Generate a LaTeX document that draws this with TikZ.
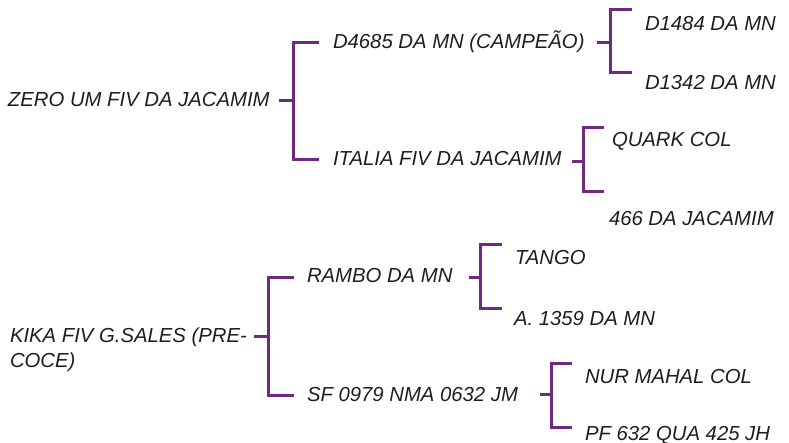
\documentclass[tikz,border=0pt]{standalone}
\usepackage{fontspec}
\setmainfont{Liberation Sans}
\definecolor{brk}{HTML}{6E2A7E}
\definecolor{txt}{HTML}{1E1E1E}
\tikzset{
  lbl/.style={anchor=base west, inner sep=0pt, outer sep=0pt, text=txt,
    font=\fontsize{20.3}{25}\selectfont\itshape},
  br/.style={draw=brk, line width=3pt}
}
\newcommand{\brkt}[4]{% stub start, vertical point, top arm end, bottom arm end
  \draw[br] (#1) -- (#2);
  \draw[br] (#3) -- (#3 -| #2) -- (#4 -| #2) -- (#4);
}
\begin{document}
\begin{tikzpicture}[x=1pt,y=-1pt]
\useasboundingbox (0,0) rectangle (789,443);
% texts (baseline = cap centre + 7)
\node[lbl] (zero)  at (8,107)   {ZERO UM FIV DA JACAMIM};
\node[lbl] (d4685) at (333,49)  {D4685 DA MN (CAMPEÃO)};
\node[lbl] (italia) at (333,166) {ITALIA FIV DA JACAMIM};
\node[lbl] (d1484) at (645,31)  {D1484 DA MN};
\node[lbl] (d1342) at (645,90)  {D1342 DA MN};
\node[lbl] (quark) at (612,147) {QUARK COL};
\node[lbl] (j466)  at (609,226) {466 DA JACAMIM};
\node[lbl] (kika)  at (10,342)  {KIKA FIV G.SALES (PRE-};
\node[lbl] (coce)  at (10,367)  {COCE)};
\node[lbl] (rambo) at (307,283) {RAMBO DA MN};
\node[lbl] (sf)    at (307,401) {SF 0979 NMA 0632 JM};
\node[lbl] (tango) at (515,265) {TANGO};
\node[lbl] (a1359) at (514,325) {A. 1359 DA MN};
\node[lbl] (nur)   at (585,383) {NUR MAHAL COL};
\node[lbl] (pf)    at (585,440) {PF 632 QUA 425 JH};
% bracket coordinates
\coordinate (b1s) at (279,101); \coordinate (b1v) at (293,101);
\coordinate (b1t) at (319,43);  \coordinate (b1b) at (319,160);
\coordinate (b2s) at (597,43);  \coordinate (b2v) at (610,43);
\coordinate (b2t) at (632,10);  \coordinate (b2b) at (632,73);
\coordinate (b3s) at (572,162); \coordinate (b3v) at (583,162);
\coordinate (b3t) at (604,128); \coordinate (b3b) at (604,192);
\coordinate (b4s) at (254,336); \coordinate (b4v) at (268,336);
\coordinate (b4t) at (294,278); \coordinate (b4b) at (294,395);
\coordinate (b5s) at (469,278); \coordinate (b5v) at (480,278);
\coordinate (b5t) at (502,245); \coordinate (b5b) at (502,309);
\coordinate (b6s) at (540,394); \coordinate (b6v) at (551,394);
\coordinate (b6t) at (572,363); \coordinate (b6b) at (572,427);
\brkt{b1s}{b1v}{b1t}{b1b}
\brkt{b2s}{b2v}{b2t}{b2b}
\brkt{b3s}{b3v}{b3t}{b3b}
\brkt{b4s}{b4v}{b4t}{b4b}
\brkt{b5s}{b5v}{b5t}{b5b}
\brkt{b6s}{b6v}{b6t}{b6b}
\end{tikzpicture}
\end{document}
